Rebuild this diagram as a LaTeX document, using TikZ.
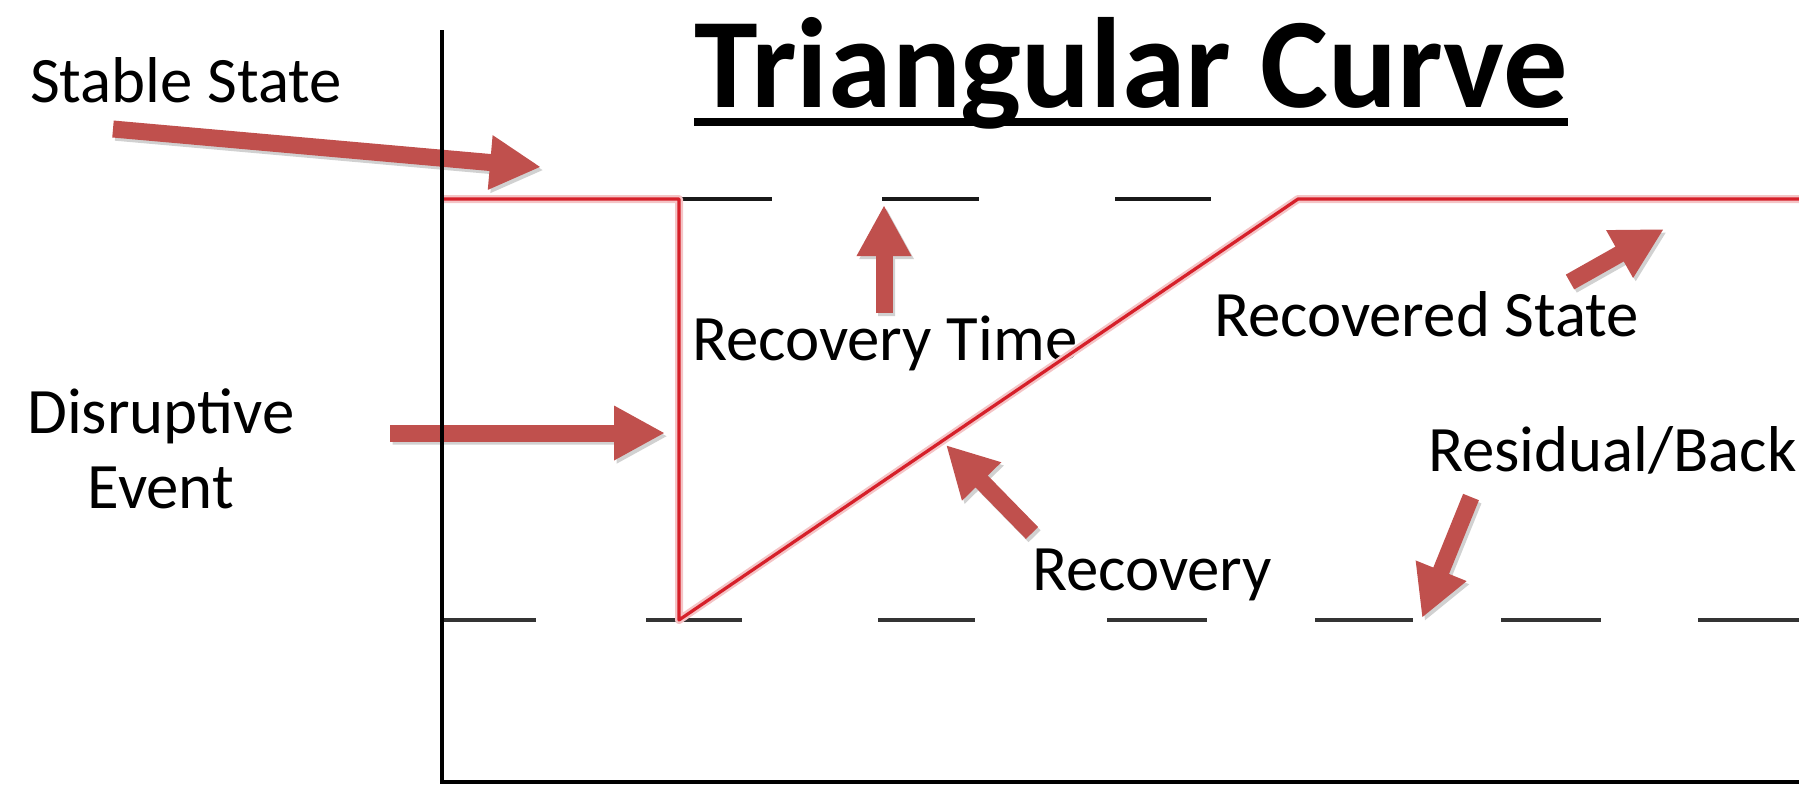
\documentclass[tikz,border=0pt]{standalone}
\usepackage{fontspec}
\setmainfont{Carlito}
\usetikzlibrary{arrows.meta}

\definecolor{arrowred}{RGB}{192,80,77}
\definecolor{curvered}{RGB}{214,32,42}
\definecolor{curvehalo}{RGB}{244,196,198}
\definecolor{lowdash}{RGB}{52,52,52}

\begin{document}
\begin{tikzpicture}[x=0.5pt,y=-0.5pt,
  lbl/.style={font=\fontsize{32.4}{38}\selectfont, inner sep=0pt, outer sep=0pt},
  pointer/.style={draw=arrowred, line width=8.5pt,
    -{Triangle[length=25.5pt 0 0,width=25.5pt 0 0]}},
  pointershade/.style={draw=black, line width=8.5pt,
    -{Triangle[length=25.5pt 0 0,width=25.5pt 0 0]}},
  axisline/.style={draw=black, line width=1.8pt},
  topdash/.style={draw=black!90, line width=2.3pt},
  lowdashline/.style={draw=lowdash, line width=2.4pt},
  curvecore/.style={draw=curvered, line width=1.6pt, line join=round},
  curveglow/.style={draw=curvehalo, line width=4pt, line join=round}]

\useasboundingbox (0,0) rectangle (1799,784);

% ---- title ----
\node[inner sep=0pt, anchor=base west, font=\fontsize{64.2}{76}\selectfont\bfseries]
  (title) at (694,107) {Triangular Curve};
\draw[line width=4pt] ([yshift=-7.5pt]title.base west) -- ([yshift=-7.5pt]title.base east);

% ---- labels ----
\node[lbl, anchor=base west] (stable) at (30,102) {Stable State};
\node[lbl, anchor=base] (disr1) at (161,433) {Disruptive};
\node[lbl, anchor=base] (disr2) at (161,508) {Event};
\node[lbl, anchor=base west] (rtime) at (692,360) {Recovery Time};
\node[lbl, anchor=base west] (rstate) at (1214,336) {Recovered State};
\node[lbl, anchor=base west] (resid) at (1428,471) {Residual/Back};
\node[lbl, anchor=base west] (recov) at (1032,590) {Recovery};

% ---- level lines ----
\foreach \a/\b in {679/772, 882/979, 1115/1211}
  \draw[topdash] (\a,199) -- (\b,199);
\foreach \a/\b in {442/536, 646/742, 878/975, 1107/1207, 1315/1413, 1501/1601, 1698/1799}
  \draw[lowdashline] (\a,620) -- (\b,620);

% ---- triangular curve ----
\coordinate (c0) at (442,199);
\coordinate (cdrop) at (679,199);
\coordinate (cbottom) at (679,620);
\coordinate (crec) at (1298,199);
\coordinate (cend) at (1799,199);
\draw[curveglow] (c0) -- (cdrop) -- (cbottom) -- (crec) -- (cend);
\draw[curvecore] (c0) -- (cdrop) -- (cbottom) -- (crec) -- (cend);

% ---- pointer ends ----
\coordinate (p1a) at (113,129);   \coordinate (p1b) at (541,167);
\coordinate (p2a) at (390,433);   \coordinate (p2b) at (665,433);
\coordinate (p3a) at (884,313);   \coordinate (p3b) at (884,205);
\coordinate (p4a) at (1570,282);  \coordinate (p4b) at (1664,229);
\coordinate (p5a) at (1032,533);  \coordinate (p5b) at (946,445);
\coordinate (p6a) at (1471,497);  \coordinate (p6b) at (1422,618);

% soft shadows under the pointers
\begin{scope}[transparency group, opacity=0.18, transform canvas={shift={(1.3pt,-1.6pt)}}]
  \foreach \n in {1,...,6}
    \draw[pointershade] (p\n a) -- (p\n b);
\end{scope}

% pointers
\foreach \n in {1,...,6}
  \draw[pointer] (p\n a) -- (p\n b);

% ---- axes ----
\coordinate (otop) at (442,30);
\coordinate (origin) at (442,782);
\coordinate (xend) at (1799,782);
\draw[axisline] (otop) -- (origin) -- (xend);

\end{tikzpicture}
\end{document}
